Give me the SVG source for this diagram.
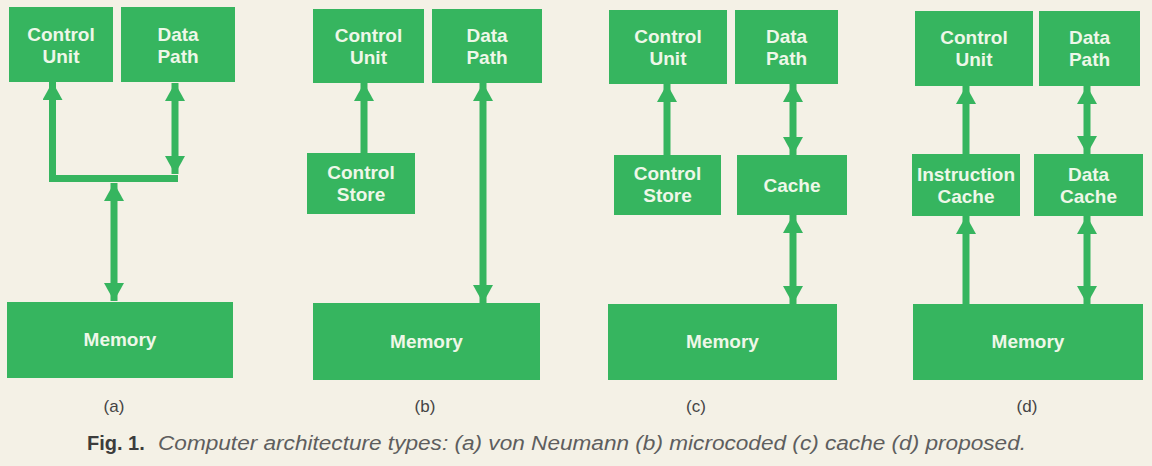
<svg xmlns="http://www.w3.org/2000/svg" width="1152" height="466" viewBox="0 0 1152 466">
  <style>
    .box { fill: #36b55f; }
    .lbl { font-family: "Liberation Sans", Arial, sans-serif; font-weight: bold; font-size: 19px; fill: #eef7e8; text-anchor: middle; }
    .sub { font-family: "Liberation Sans", Arial, sans-serif; font-size: 17px; fill: #444444; text-anchor: middle; }
    .wire { fill: none; stroke: #36b55f; stroke-width: 7; stroke-linejoin: miter; stroke-linecap: butt; }
    .fig { font-family: "Liberation Sans", Arial, sans-serif; font-weight: bold; font-size: 20px; fill: #3c3c3c; }
    .cap { font-family: "Liberation Sans", Arial, sans-serif; font-style: italic; font-size: 20px; fill: #5e5e5e; }
  </style>
  <defs>
    <marker id="head" markerUnits="userSpaceOnUse" viewBox="0 0 18 20" markerWidth="18" markerHeight="20" refX="18" refY="10" orient="auto-start-reverse">
      <path d="M0,0 L18,10 L0,20 z" fill="#36b55f"/>
    </marker>
  </defs>
  <rect width="1152" height="466" fill="#f4f1e6"/>

  <!-- Panel (a) -->
  <g id="a-control-unit"><rect class="box" x="9" y="7" width="104" height="75"/><text class="lbl" x="61" y="41">Control</text><text class="lbl" x="61" y="63">Unit</text></g>
  <g id="a-data-path"><rect class="box" x="121" y="7" width="114" height="75"/><text class="lbl" x="178" y="41">Data</text><text class="lbl" x="178" y="63">Path</text></g>
  <g id="a-memory"><rect class="box" x="7" y="302" width="226" height="76"/><text class="lbl" x="120" y="346">Memory</text></g>
  <text class="sub" x="114" y="412">(a)</text>

  <!-- Panel (b) -->
  <g id="b-control-unit"><rect class="box" x="313" y="9" width="111" height="74"/><text class="lbl" x="368.5" y="42">Control</text><text class="lbl" x="368.5" y="64">Unit</text></g>
  <g id="b-data-path"><rect class="box" x="432" y="9" width="110" height="74"/><text class="lbl" x="487" y="42">Data</text><text class="lbl" x="487" y="64">Path</text></g>
  <g id="b-control-store"><rect class="box" x="307" y="153" width="108" height="61"/><text class="lbl" x="361" y="179">Control</text><text class="lbl" x="361" y="201">Store</text></g>
  <g id="b-memory"><rect class="box" x="313" y="303" width="227" height="77"/><text class="lbl" x="426.5" y="348">Memory</text></g>
  <text class="sub" x="425" y="412">(b)</text>

  <!-- Panel (c) -->
  <g id="c-control-unit"><rect class="box" x="609" y="10" width="118" height="74"/><text class="lbl" x="668" y="43">Control</text><text class="lbl" x="668" y="65">Unit</text></g>
  <g id="c-data-path"><rect class="box" x="735" y="10" width="103" height="74"/><text class="lbl" x="786.5" y="43">Data</text><text class="lbl" x="786.5" y="65">Path</text></g>
  <g id="c-control-store"><rect class="box" x="614" y="155" width="107" height="60"/><text class="lbl" x="667.5" y="180">Control</text><text class="lbl" x="667.5" y="202">Store</text></g>
  <g id="c-cache"><rect class="box" x="737" y="155" width="110" height="60"/><text class="lbl" x="792" y="192">Cache</text></g>
  <g id="c-memory"><rect class="box" x="608" y="304" width="229" height="76"/><text class="lbl" x="722.5" y="348">Memory</text></g>
  <text class="sub" x="696" y="412">(c)</text>

  <!-- Panel (d) -->
  <g id="d-control-unit"><rect class="box" x="915" y="11" width="118" height="75"/><text class="lbl" x="974" y="44">Control</text><text class="lbl" x="974" y="66">Unit</text></g>
  <g id="d-data-path"><rect class="box" x="1039" y="11" width="101" height="75"/><text class="lbl" x="1089.5" y="44">Data</text><text class="lbl" x="1089.5" y="66">Path</text></g>
  <g id="d-instruction-cache"><rect class="box" x="912" y="154" width="108" height="62"/><text class="lbl" x="966" y="181">Instruction</text><text class="lbl" x="966" y="203">Cache</text></g>
  <g id="d-data-cache"><rect class="box" x="1034" y="154" width="109" height="62"/><text class="lbl" x="1088.5" y="181">Data</text><text class="lbl" x="1088.5" y="203">Cache</text></g>
  <g id="d-memory"><rect class="box" x="913" y="304" width="230" height="76"/><text class="lbl" x="1028" y="348">Memory</text></g>
  <text class="sub" x="1027" y="412">(d)</text>

  <!-- Connectors -->
  <g id="connectors">
    <path class="wire" d="M52.5,82 L52.5,178.5 L178,178.5" marker-start="url(#head)"/>
    <path class="wire" d="M175,83 L175,174" marker-start="url(#head)" marker-end="url(#head)"/>
    <path class="wire" d="M114,183 L114,301" marker-start="url(#head)" marker-end="url(#head)"/>

    <path class="wire" d="M364,153 L364,83" marker-end="url(#head)"/>
    <path class="wire" d="M483,83 L483,303" marker-start="url(#head)" marker-end="url(#head)"/>

    <path class="wire" d="M667,155 L667,84" marker-end="url(#head)"/>
    <path class="wire" d="M793,84 L793,155" marker-start="url(#head)" marker-end="url(#head)"/>
    <path class="wire" d="M793,215 L793,304" marker-start="url(#head)" marker-end="url(#head)"/>

    <path class="wire" d="M966,154 L966,86" marker-end="url(#head)"/>
    <path class="wire" d="M966,304 L966,216" marker-end="url(#head)"/>
    <path class="wire" d="M1087,86 L1087,154" marker-start="url(#head)" marker-end="url(#head)"/>
    <path class="wire" d="M1087,216 L1087,304" marker-start="url(#head)" marker-end="url(#head)"/>
  </g>

  <!-- Caption -->
  <text class="fig" x="87" y="450">Fig. 1.</text>
  <text class="cap" x="158" y="450" textLength="868" lengthAdjust="spacingAndGlyphs">Computer architecture types: (a) von Neumann (b) microcoded (c) cache (d) proposed.</text>
</svg>
